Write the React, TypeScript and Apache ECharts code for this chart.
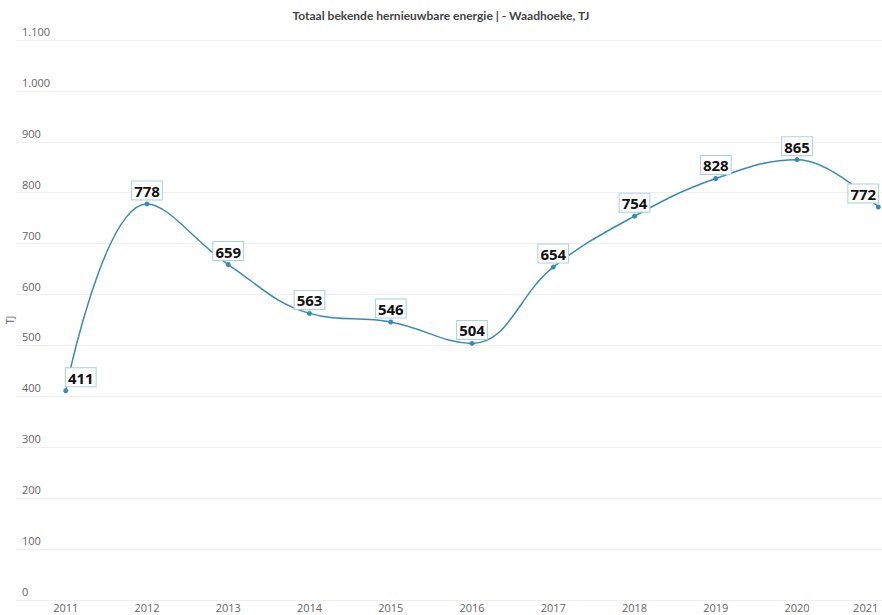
import React, { useEffect, useRef } from "react";
import * as echarts from "echarts";

const title = "Totaal bekende hernieuwbare energie | - Waadhoeke, TJ";
const years = [2011, 2012, 2013, 2014, 2015, 2016, 2017, 2018, 2019, 2020, 2021];
const values = [411, 778, 659, 563, 546, 504, 654, 754, 828, 865, 772];
const yTicks = [0, 100, 200, 300, 400, 500, 600, 700, 800, 900, 1000, 1100];
const yName = "TJ";

const fmt = (v: number) => String(v).replace(/\B(?=(\d{3})+(?!\d))/g, ".");

export default function App() {
  const ref = useRef<HTMLDivElement>(null);
  useEffect(() => {
    if (!ref.current) return;
    const chart = echarts.init(ref.current, undefined, { renderer: "svg" });
    const lineColor = "#3a8bb4";
    const data = years.map((y, i) => {
      const item: any = { value: [y, values[i]] };
      if (i === 0) item.label = { offset: [15, 0] };
      if (i === years.length - 1) item.label = { offset: [-15, 0] };
      return item;
    });
    chart.setOption({
      animation: false,
      backgroundColor: "#ffffff",
      title: {
        text: title,
        left: "center",
        top: 4,
        textStyle: { fontFamily: "Lato", fontSize: 12, fontWeight: "bold", color: "#444" },
      },
      grid: { left: 16, right: 0, top: 40, bottom: 15, containLabel: false, outerBoundsMode: "none" },
      xAxis: {
        type: "value",
        min: 2010.3877,
        max: 2021.046,
        splitLine: { show: false },
        axisLine: { show: true, lineStyle: { color: "#eeeeee" } },
        axisTick: { show: false },
        axisLabel: {
          customValues: years,
          color: "#666",
          fontFamily: "Open Sans",
          fontSize: 11,
          margin: 2,
          alignMaxLabel: "right",
          formatter: (v: number) => String(v),
        },
      },
      yAxis: {
        type: "value",
        min: 0,
        max: 1100,
        interval: 100,
        name: yName,
        nameLocation: "middle",
        nameGap: 1,
        nameMoveOverlap: false,
        nameTextStyle: { color: "#666", fontFamily: "Open Sans", fontSize: 10 },
        axisLine: { show: false },
        axisTick: { show: false },
        splitLine: { show: true, lineStyle: { color: "#f0f0f0", width: 1 } },
        axisLabel: {
          inside: true,
          margin: 6,
          align: "left",
          verticalAlign: "bottom",
          padding: [0, 0, 3, 0],
          color: "#666",
          fontFamily: "Open Sans",
          fontSize: 11,
          customValues: yTicks,
          formatter: (v: number) => fmt(v),
        },
      },
      series: [
        {
          type: "line",
          data,
          smooth: 0.4,
          symbol: "circle",
          symbolSize: 5,
          lineStyle: { color: lineColor, width: 1.5 },
          itemStyle: { color: lineColor },
          label: {
            show: true,
            position: "top",
            distance: 2,
            formatter: (p: any) => String(p.value[1]),
            fontFamily: "Open Sans",
            fontWeight: "bold",
            fontSize: 15,
            color: "#111",
            backgroundColor: "#ffffff",
            borderColor: "#a9cfe2",
            borderWidth: 1,
            padding: [2, 2, 1, 2],
          },
        },
      ],
    });
    return () => chart.dispose();
  }, []);
  return <div ref={ref} style={{ width: 882, height: 615, position: "absolute", left: 0, top: 0 }} />;
}
